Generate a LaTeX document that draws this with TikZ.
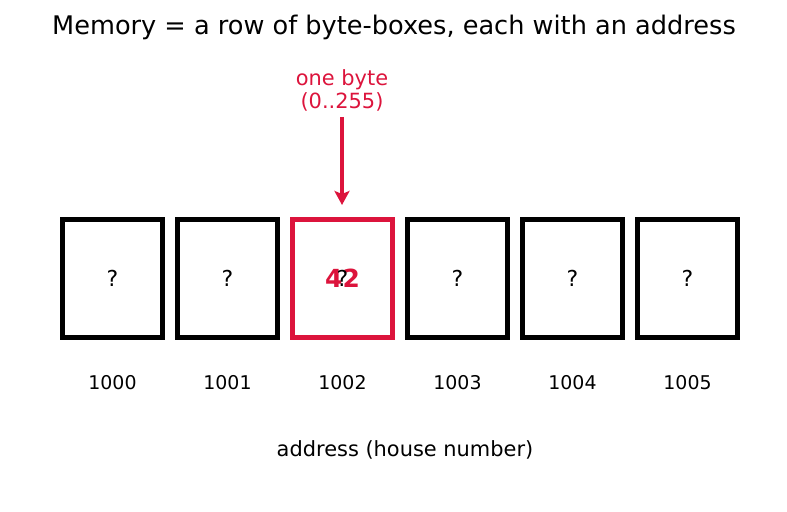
\documentclass[tikz,border=0pt]{standalone}
\usepackage{fontspec}
\setmainfont{DejaVu Sans}
\usetikzlibrary{arrows.meta}
\definecolor{crim}{RGB}{220,20,60}
\tikzset{
  bytebox/.style={draw=black, line width=5bp, minimum width=100bp, minimum height=118bp, inner sep=0pt},
  qmark/.style={font=\fontsize{22}{26}\selectfont, inner sep=0pt},
  addr/.style={font=\fontsize{19}{22}\selectfont, inner sep=0pt},
}
\begin{document}
\begin{tikzpicture}[x=1bp,y=-1bp]
\useasboundingbox (0,0) rectangle (787,512);
\node[font=\fontsize{25.7}{30}\selectfont, inner sep=0pt] (title) at (394,27.5) {Memory = a row of byte-boxes, each with an address};
\foreach \i in {0,1,3,4,5}{
  \pgfmathsetmacro{\cx}{112.5+115*\i}
  \node[bytebox] (b\i) at (\cx,278.5) {};
}
\node[bytebox, draw=crim] (b2) at (342.5,278.5) {};
\foreach \i/\a in {0/1000,1/1001,2/1002,3/1003,4/1004,5/1005}{
  \pgfmathsetmacro{\cx}{112.5+115*\i}
  \node[addr] (a\i) at (\cx,383) {\a};
}
\node[text=crim, font=\fontsize{25}{30}\selectfont\bfseries, inner sep=0pt] (v) at (b2.center) {42};
\foreach \i in {0,...,5}{
  \node[qmark] (q\i) at (b\i.center) {?};
}
\node[text=crim, font=\fontsize{21}{23}\selectfont, align=center, inner sep=0pt] (lab) at (342,90) {one byte\\(0..255)};
\coordinate (tail) at (342,117);
\coordinate (tip) at (342,205);
\draw[crim, line width=4bp, -{Stealth[length=14bp,width=15bp,inset=3bp]}] (tail) -- (tip);
\node[font=\fontsize{21}{24}\selectfont, inner sep=0pt] (axis) at (405,449.5) {address (house number)};
\end{tikzpicture}
\end{document}
